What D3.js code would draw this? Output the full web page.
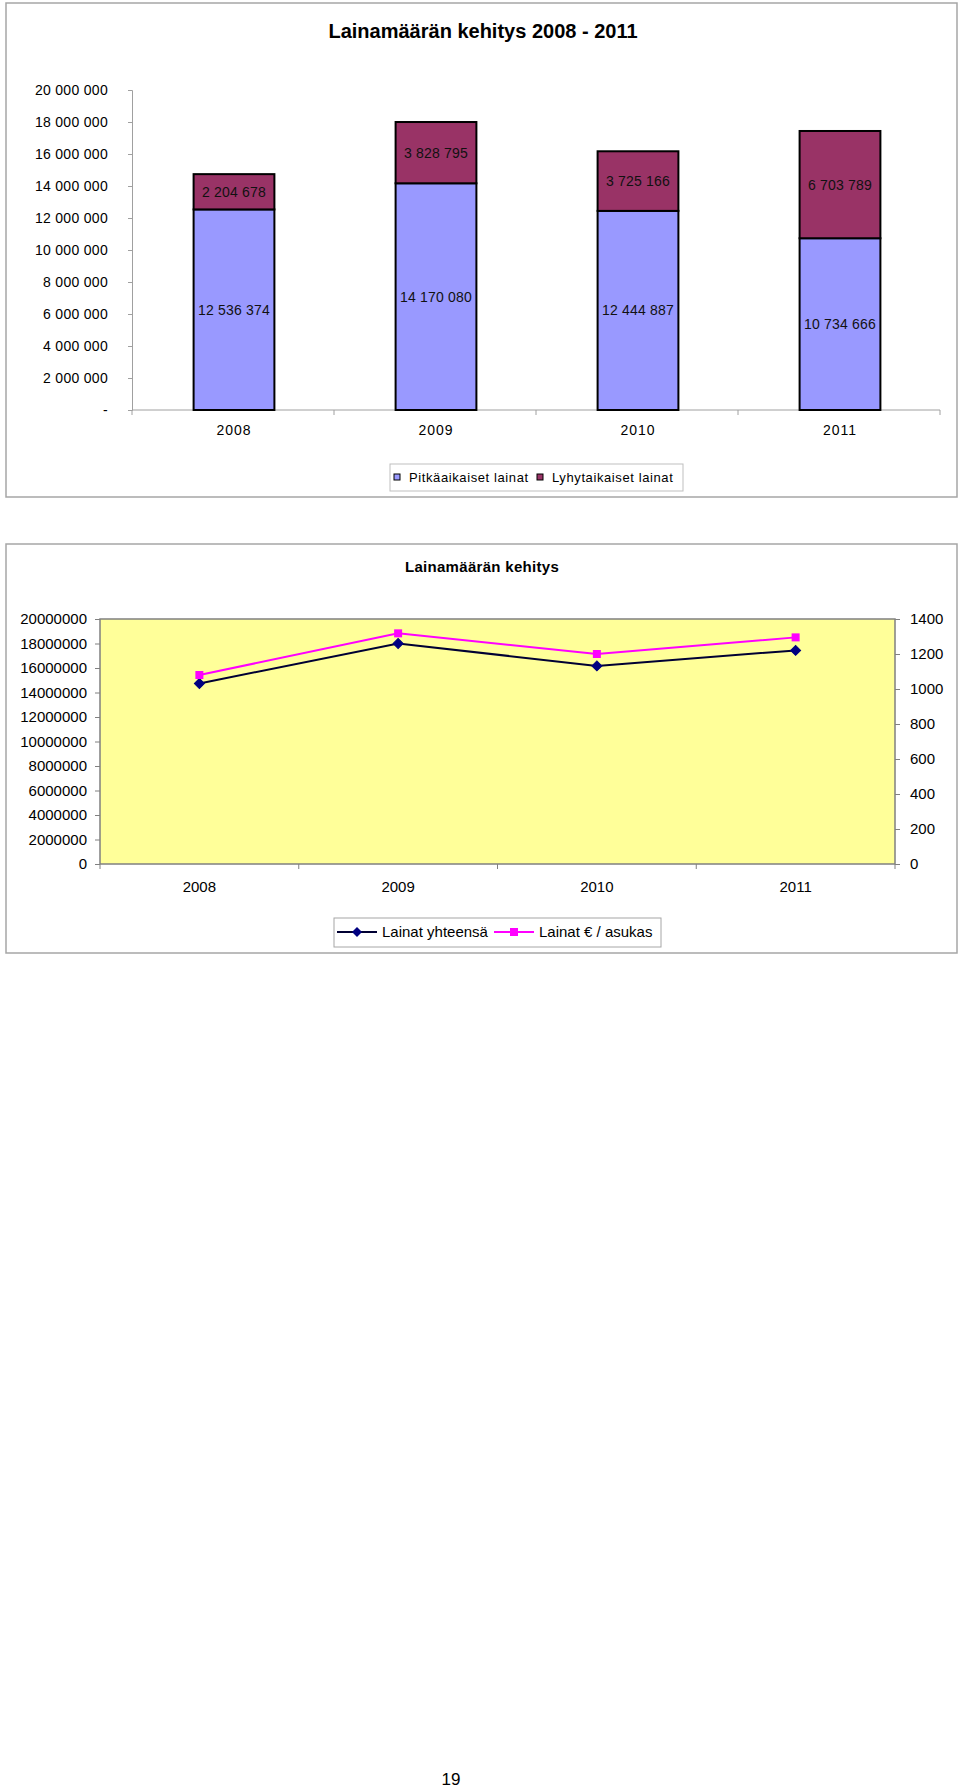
<!DOCTYPE html>
<html>
<head>
<meta charset="utf-8">
<script src="https://cdn.jsdelivr.net/npm/d3@7"></script>
<style>
  body { margin: 0; background: #fff; }
  svg text { font-family: "Liberation Sans", Arial, sans-serif; fill: #000; }
</style>
</head>
<body>
<div id="page"></div>
<script>
// data
const years = ["2008", "2009", "2010", "2011"];
const pitkaaikaiset = [12536374, 14170080, 12444887, 10734666];
const lyhytaikaiset = [2204678, 3828795, 3725166, 6703789];
const lainatYhteensa = [14741052, 17998875, 16170053, 17438455];
const lainatAsukas = [1080, 1318, 1200, 1295];
const leftTicks = [0, 2000000, 4000000, 6000000, 8000000, 10000000, 12000000, 14000000, 16000000, 18000000, 20000000];
const rightTicks = [0, 200, 400, 600, 800, 1000, 1200, 1400];

const fi = d3.formatLocale({decimal: ",", thousands: " ", grouping: [3], currency: ["", " €"]});
const fmt = fi.format(",");

const svg = d3.select("#page").append("svg")
    .attr("width", 960)
    .attr("height", 1788);

// ---------- top chart: stacked bars ----------
const barChart = svg.append("g");

barChart.append("rect")
    .attr("x", 6).attr("y", 3)
    .attr("width", 951).attr("height", 494)
    .attr("fill", "#fff")
    .attr("stroke", "#a6a6a6")
    .attr("stroke-width", 1.5);

barChart.append("text")
    .attr("x", 483).attr("y", 38)
    .attr("text-anchor", "middle")
    .style("font-size", "20px")
    .style("font-weight", "bold")
    .text("Lainamäärän kehitys 2008 - 2011");

const xBar = d3.scaleBand()
    .domain(years)
    .range([133, 941])
    .paddingInner(0.6)
    .paddingOuter(0.3);

const yBar = d3.scaleLinear()
    .domain([0, 20000000])
    .range([410, 90]);

const barRows = years.map((y, i) => ({year: y, pitka: pitkaaikaiset[i], lyhyt: lyhytaikaiset[i]}));
const series = d3.stack().keys(["pitka", "lyhyt"])(barRows);
const barColor = {pitka: "#9999ff", lyhyt: "#993366"};

const yAxisBar = barChart.append("g")
    .attr("transform", "translate(132,0)")
    .call(d3.axisLeft(yBar).tickValues(leftTicks).tickSize(4).tickPadding(20)
        .tickFormat(d => d === 0 ? "-" : fmt(d)));
yAxisBar.select(".domain").attr("stroke", "#a0a0a0");
yAxisBar.selectAll(".tick line").attr("stroke", "#a0a0a0");
yAxisBar.selectAll(".tick text")
    .style("font-size", "14px")
    .style("letter-spacing", "0.3px")
    .attr("fill", "#000");

const xAxisBar = barChart.append("g")
    .attr("transform", "translate(0,410)");
xAxisBar.append("line")
    .attr("x1", 132).attr("x2", 940)
    .attr("stroke", "#a0a0a0");
xAxisBar.selectAll("line.tk")
    .data(d3.range(years.length + 1))
    .join("line")
    .attr("class", "tk")
    .attr("x1", i => 132 + i * xBar.step())
    .attr("x2", i => 132 + i * xBar.step())
    .attr("y1", 0).attr("y2", 5)
    .attr("stroke", "#a0a0a0");
xAxisBar.selectAll("text")
    .data(years)
    .join("text")
    .attr("x", d => xBar(d) + xBar.bandwidth() / 2)
    .attr("y", 25)
    .attr("text-anchor", "middle")
    .style("font-size", "14px")
    .style("letter-spacing", "1px")
    .text(d => d);

const layers = barChart.selectAll("g.layer")
    .data(series)
    .join("g")
    .attr("class", "layer")
    .attr("fill", d => barColor[d.key]);

layers.selectAll("rect")
    .data(d => d)
    .join("rect")
    .attr("x", d => xBar(d.data.year))
    .attr("y", d => yBar(d[1]))
    .attr("width", xBar.bandwidth())
    .attr("height", d => yBar(d[0]) - yBar(d[1]))
    .attr("stroke", "#000")
    .attr("stroke-width", 2);

layers.selectAll("text")
    .data(d => d.map(v => ({v, key: d.key})))
    .join("text")
    .attr("x", d => xBar(d.v.data.year) + xBar.bandwidth() / 2)
    .attr("y", d => yBar((d.v[0] + d.v[1]) / 2) + 5)
    .attr("text-anchor", "middle")
    .style("font-size", "14px")
    .style("letter-spacing", "0.2px")
    .style("fill", "#111")
    .text(d => fmt(d.v.data[d.key]));

// legend
const legTop = barChart.append("g");
legTop.append("rect")
    .attr("x", 390).attr("y", 464)
    .attr("width", 293).attr("height", 27)
    .attr("fill", "#fff")
    .attr("stroke", "#bfbfbf");
const legItems = [
    {label: "Pitkäaikaiset lainat", key: "pitka", x: 394},
    {label: "Lyhytaikaiset lainat", key: "lyhyt", x: 537}
];
legTop.selectAll("rect.sw")
    .data(legItems)
    .join("rect")
    .attr("class", "sw")
    .attr("x", d => d.x).attr("y", 474)
    .attr("width", 6).attr("height", 6)
    .attr("fill", d => barColor[d.key])
    .attr("stroke", "#000")
    .attr("stroke-width", 1);
legTop.selectAll("text")
    .data(legItems)
    .join("text")
    .attr("x", d => d.x + 15).attr("y", 482)
    .style("font-size", "13px")
    .style("letter-spacing", "0.6px")
    .text(d => d.label);

// ---------- bottom chart: lines with two axes ----------
const lineChart = svg.append("g");

lineChart.append("rect")
    .attr("x", 6).attr("y", 544)
    .attr("width", 951).attr("height", 409)
    .attr("fill", "#fff")
    .attr("stroke", "#a6a6a6")
    .attr("stroke-width", 1.5);

lineChart.append("text")
    .attr("x", 482).attr("y", 572)
    .attr("text-anchor", "middle")
    .style("font-size", "15px")
    .style("font-weight", "bold")
    .style("letter-spacing", "0.3px")
    .text("Lainamäärän kehitys");

const plotL = 100, plotR = 895, plotT = 619, plotB = 864;

const xLine = d3.scalePoint()
    .domain(years)
    .range([plotL, plotR])
    .padding(0.5);

const yLeft = d3.scaleLinear()
    .domain([0, 20000000])
    .range([plotB, plotT]);

const yRight = d3.scaleLinear()
    .domain([0, 1400])
    .range([plotB, plotT]);

lineChart.append("rect")
    .attr("x", plotL).attr("y", plotT)
    .attr("width", plotR - plotL).attr("height", plotB - plotT)
    .attr("fill", "#ffff99")
    .attr("stroke", "#808080")
    .attr("stroke-width", 1.5);

const axL = lineChart.append("g")
    .attr("transform", `translate(${plotL},0)`)
    .call(d3.axisLeft(yLeft).tickValues(leftTicks).tickSize(5).tickPadding(8).tickFormat(d3.format("d")));
const axR = lineChart.append("g")
    .attr("transform", `translate(${plotR},0)`)
    .call(d3.axisRight(yRight).tickValues(rightTicks).tickSize(5).tickPadding(10).tickFormat(d3.format("d")));
[axL, axR].forEach(a => {
    a.select(".domain").remove();
    a.selectAll(".tick line").attr("stroke", "#808080");
    a.selectAll(".tick text").style("font-size", "15px").attr("fill", "#000");
});

const axB = lineChart.append("g").attr("transform", `translate(0,${plotB})`);
const stepL = (plotR - plotL) / years.length;
axB.selectAll("line")
    .data(d3.range(years.length + 1))
    .join("line")
    .attr("x1", i => plotL + i * stepL)
    .attr("x2", i => plotL + i * stepL)
    .attr("y1", 0).attr("y2", 5)
    .attr("stroke", "#808080");
axB.selectAll("text")
    .data(years)
    .join("text")
    .attr("x", d => xLine(d))
    .attr("y", 28)
    .attr("text-anchor", "middle")
    .style("font-size", "15px")
    .text(d => d);

const lineTotal = d3.line()
    .x((d, i) => xLine(years[i]))
    .y(d => yLeft(d));
const lineAsukas = d3.line()
    .x((d, i) => xLine(years[i]))
    .y(d => yRight(d));

lineChart.append("path")
    .datum(lainatYhteensa)
    .attr("d", lineTotal)
    .attr("fill", "none")
    .attr("stroke", "#000033")
    .attr("stroke-width", 2);
lineChart.append("path")
    .datum(lainatAsukas)
    .attr("d", lineAsukas)
    .attr("fill", "none")
    .attr("stroke", "#ff00ff")
    .attr("stroke-width", 2);

// excel style diamond: a square turned 45 degrees
const diamond = d3.symbol().type(d3.symbolSquare).size(50);
lineChart.selectAll("path.dm")
    .data(lainatYhteensa)
    .join("path")
    .attr("class", "dm")
    .attr("transform", (d, i) => `translate(${xLine(years[i])},${yLeft(d)}) rotate(45)`)
    .attr("d", diamond)
    .attr("fill", "#000080")
    .attr("stroke", "#000080");
lineChart.selectAll("rect.sq")
    .data(lainatAsukas)
    .join("rect")
    .attr("class", "sq")
    .attr("x", (d, i) => xLine(years[i]) - 4)
    .attr("y", d => yRight(d) - 4)
    .attr("width", 8).attr("height", 8)
    .attr("fill", "#ff00ff");

// legend
const legBot = lineChart.append("g");
legBot.append("rect")
    .attr("x", 334).attr("y", 918)
    .attr("width", 327).attr("height", 29)
    .attr("fill", "#fff")
    .attr("stroke", "#a6a6a6");
const legLines = [
    {label: "Lainat yhteensä", x: 337, color: "#000080", line: "#000033", mark: "diamond"},
    {label: "Lainat € / asukas", x: 494, color: "#ff00ff", line: "#ff00ff", mark: "square"}
];
const ll = legBot.selectAll("g")
    .data(legLines)
    .join("g")
    .attr("transform", d => `translate(${d.x},932)`);
ll.append("line")
    .attr("x1", 0).attr("x2", 40)
    .attr("stroke", d => d.line)
    .attr("stroke-width", 2);
ll.filter(d => d.mark === "diamond").append("path")
    .attr("transform", "translate(20,0) rotate(45)")
    .attr("d", diamond)
    .attr("fill", d => d.color);
ll.filter(d => d.mark === "square").append("rect")
    .attr("x", 16).attr("y", -4)
    .attr("width", 8).attr("height", 8)
    .attr("fill", d => d.color);
ll.append("text")
    .attr("x", 45).attr("y", 5)
    .style("font-size", "15px")
    .text(d => d.label);

// page number
svg.append("text")
    .attr("x", 451).attr("y", 1785)
    .attr("text-anchor", "middle")
    .style("font-size", "17px")
    .text("19");
</script>
</body>
</html>
